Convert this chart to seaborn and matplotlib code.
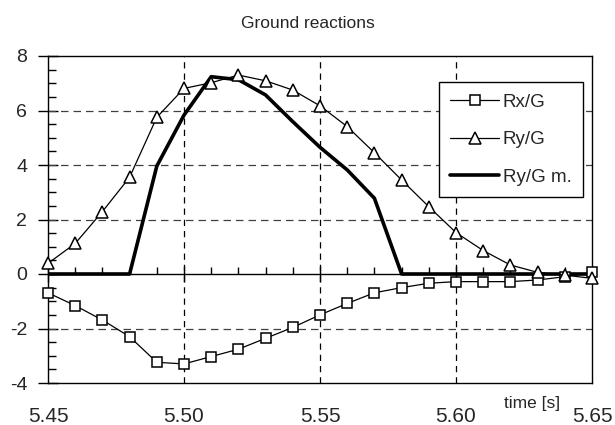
import numpy as np
import pandas as pd
import matplotlib
matplotlib.use("Agg")
import matplotlib.pyplot as plt
import matplotlib.transforms as mtrans
import seaborn as sns
from matplotlib.ticker import MultipleLocator

# ---- data ----
time = [5.45, 5.46, 5.47, 5.48, 5.49, 5.50, 5.51, 5.52, 5.53, 5.54, 5.55,
        5.56, 5.57, 5.58, 5.59, 5.60, 5.61, 5.62, 5.63, 5.64, 5.65]
rx_g = [-0.69, -1.16, -1.69, -2.30, -3.24, -3.30, -3.03, -2.76, -2.36, -1.96, -1.50,
        -1.08, -0.69, -0.50, -0.34, -0.28, -0.28, -0.28, -0.22, -0.10, 0.06]
ry_g = [0.39, 1.12, 2.29, 3.55, 5.75, 6.81, 7.02, 7.30, 7.09, 6.75, 6.17,
        5.41, 4.45, 3.45, 2.47, 1.52, 0.86, 0.33, 0.06, -0.04, -0.16]
ry_g_m = [0.0, 0.0, 0.0, 0.0, 3.96, 5.83, 7.24, 7.13, 6.57, 5.59, 4.65,
          3.82, 2.78, 0.0, 0.0, 0.0, 0.0, 0.0, 0.0, 0.0, 0.0]
series_names = ["Rx/G", "Ry/G", "Ry/G m."]
x_ticks = [5.45, 5.50, 5.55, 5.60, 5.65]
x_tick_labels = ["5.45", "5.50", "5.55", "5.60", "5.65"]
y_ticks = [-4, -2, 0, 2, 4, 6, 8]
title = "Ground reactions"
x_label = "time [s]"

sns.set_style("white")
plt.rcParams["font.family"] = ["Liberation Sans", "DejaVu Sans"]
narrow = ["Liberation Sans Narrow", "Liberation Sans", "DejaVu Sans"]

fig = plt.figure(figsize=(6.15, 4.25), dpi=100)
ax = fig.add_axes([48 / 615, 1 - 383 / 425, 544 / 615, 327 / 425])

sns.lineplot(x=time, y=rx_g, ax=ax, color="black", linewidth=0.9,
             marker="s", markersize=7.5, markerfacecolor="white",
             markeredgecolor="black", markeredgewidth=1.1, label=series_names[0],
             zorder=4, clip_on=False)
sns.lineplot(x=time, y=ry_g, ax=ax, color="black", linewidth=0.9,
             marker="^", markersize=8.5, markerfacecolor="white",
             markeredgecolor="black", markeredgewidth=1.1, label=series_names[1],
             zorder=4, clip_on=False)
sns.lineplot(x=time, y=ry_g_m, ax=ax, color="black", linewidth=2.6,
             label=series_names[2], zorder=3)

ax.set_xlim(5.45, 5.65)
ax.set_ylim(-4, 8)

# grid
for xv in x_ticks[1:-1]:
    ax.axvline(xv, color="black", linestyle=(0, (5, 4)), linewidth=0.9, zorder=1)
for yv in y_ticks[1:-1]:
    if yv != 0:
        ax.axhline(yv, color="#404040", linestyle=(0, (6, 4)), linewidth=0.9, zorder=1)

# spines
for s in ["top", "right", "left"]:
    ax.spines[s].set_visible(True)
    ax.spines[s].set_color("black")
    ax.spines[s].set_linewidth(1.0)
ax.spines["bottom"].set_position(("data", 0))
ax.spines["bottom"].set_color("black")
ax.spines["bottom"].set_linewidth(1.0)
ax.spines["bottom"].set_zorder(2)

ax.set_xticks(x_ticks)
ax.xaxis.set_minor_locator(MultipleLocator(0.01))
ax.tick_params(axis="x", which="major", direction="inout", length=11, width=1,
               color="black", labelbottom=False, bottom=True)
ax.tick_params(axis="x", which="minor", direction="in", length=5, width=1,
               color="black", bottom=True)

ax.set_yticks(y_ticks)
ax.set_yticklabels([str(v) for v in y_ticks])
ax.yaxis.set_minor_locator(MultipleLocator(0.5))
ax.tick_params(axis="y", which="major", direction="inout", length=14, width=1,
               color="black", left=True, labelsize=14, pad=8)
ax.tick_params(axis="y", which="minor", direction="in", length=6, width=1,
               color="black", left=True)

sec = ax.secondary_xaxis("bottom")
sec.set_xticks(x_ticks)
sec.set_xticklabels(x_tick_labels)
sec.tick_params(length=0, labelsize=15, pad=17)
sec.spines["bottom"].set_color("black")
sec.spines["bottom"].set_linewidth(1.0)

ax.set_xlabel("")
ax.set_ylabel("")
t = ax.text(5.628, -4.0, x_label, ha="center", va="top", family=narrow,
            fontsize=12.5)
t.set_transform(ax.transData + mtrans.ScaledTranslation(0, -13 / 100, fig.dpi_scale_trans))

fig.text(0.5, 1 - 23 / 425, title, ha="center", va="center", fontsize=12.5,
         family=narrow)

leg = ax.legend(loc="upper right", bbox_to_anchor=(0.983, 0.92), fontsize=13.5,
                frameon=True, fancybox=False, edgecolor="black", framealpha=1,
                handlelength=2.6, handletextpad=0.2, labelspacing=1.1,
                borderpad=0.6, borderaxespad=0)
leg.get_frame().set_linewidth(1.0)

fig.savefig("out.png", dpi=100)
